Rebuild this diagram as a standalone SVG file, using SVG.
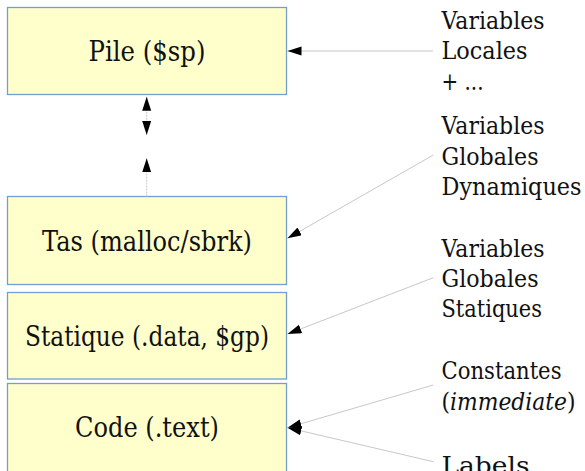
<svg xmlns="http://www.w3.org/2000/svg" width="585" height="471" viewBox="0 0 585 471">
<style>
.box{fill:#ffffcc;stroke:#729fcf;stroke-width:1.3}
.lbl{font-family:'DejaVu Serif',serif;font-size:28.5px;fill:#111;text-anchor:middle}
.note{font-family:'DejaVu Serif',serif;font-size:23.5px;fill:#111}
.conn{stroke:#c8c8c8;stroke-width:1;fill:none}
</style>
<defs>
<marker id="ah" markerUnits="userSpaceOnUse" markerWidth="16" markerHeight="12" refX="14" refY="4.5" orient="auto-start-reverse">
<path d="M0,0 L14,4.5 L0,9 z" fill="#000"/>
</marker>
</defs>
<rect width="585" height="471" fill="#fff"/>
<g id="pile"><rect class="box" x="7.5" y="7.5" width="279" height="87"/><text class="lbl" x="147" y="61" textLength="117" lengthAdjust="spacingAndGlyphs">Pile ($sp)</text></g>
<g id="tas"><rect class="box" x="7.5" y="196.5" width="279" height="88"/><text class="lbl" x="147" y="251" textLength="210" lengthAdjust="spacingAndGlyphs">Tas (malloc/sbrk)</text></g>
<g id="statique"><rect class="box" x="7.5" y="292.5" width="279" height="86.5"/><text class="lbl" x="147" y="346" textLength="244" lengthAdjust="spacingAndGlyphs">Statique (.data, $gp)</text></g>
<g id="code"><rect class="box" x="7.5" y="383.5" width="279" height="92"/><text class="lbl" x="147" y="437" textLength="144" lengthAdjust="spacingAndGlyphs">Code (.text)</text></g>
<g id="note-locales"><text class="note" x="441.5" y="28.5" textLength="103" lengthAdjust="spacingAndGlyphs">Variables</text><text class="note" x="441.5" y="59" textLength="86" lengthAdjust="spacingAndGlyphs">Locales</text><text class="note" x="441.5" y="89.5" textLength="42" lengthAdjust="spacingAndGlyphs">+ ...</text></g>
<g id="note-dynamiques"><text class="note" x="441.5" y="134" textLength="103" lengthAdjust="spacingAndGlyphs">Variables</text><text class="note" x="441.5" y="165" textLength="97" lengthAdjust="spacingAndGlyphs">Globales</text><text class="note" x="441.5" y="195" textLength="140" lengthAdjust="spacingAndGlyphs">Dynamiques</text></g>
<g id="note-statiques"><text class="note" x="441.5" y="256.7" textLength="103" lengthAdjust="spacingAndGlyphs">Variables</text><text class="note" x="441.5" y="287.3" textLength="97" lengthAdjust="spacingAndGlyphs">Globales</text><text class="note" x="441.5" y="317.3" textLength="100.5" lengthAdjust="spacingAndGlyphs">Statiques</text></g>
<g id="note-constantes"><text class="note" x="441.5" y="378.5" textLength="120" lengthAdjust="spacingAndGlyphs">Constantes</text><text class="note" x="441.5" y="409.5" textLength="134" lengthAdjust="spacingAndGlyphs">(<tspan font-style="italic">immediate</tspan>)</text></g>
<g id="note-labels"><text class="note" x="441.5" y="474" textLength="88" lengthAdjust="spacingAndGlyphs">Labels</text></g>
<g id="connectors">
<line class="conn" x1="433" y1="51" x2="287.5" y2="51" marker-end="url(#ah)"/>
<line class="conn" x1="433.3" y1="155" x2="287.5" y2="238.3" marker-end="url(#ah)"/>
<line class="conn" x1="433.3" y1="277.7" x2="287.5" y2="334" marker-end="url(#ah)"/>
<line class="conn" x1="433.3" y1="385" x2="287.5" y2="427.7" marker-end="url(#ah)"/>
<line class="conn" x1="433.3" y1="461.7" x2="287.5" y2="427.7" marker-end="url(#ah)"/>
<line class="conn" x1="146.7" y1="96.7" x2="146.7" y2="135" stroke-dasharray="2,1" marker-start="url(#ah)" marker-end="url(#ah)"/>
<line class="conn" x1="146.7" y1="196.5" x2="146.7" y2="158.3" stroke-dasharray="2,1" marker-end="url(#ah)"/>
</g>
</svg>
